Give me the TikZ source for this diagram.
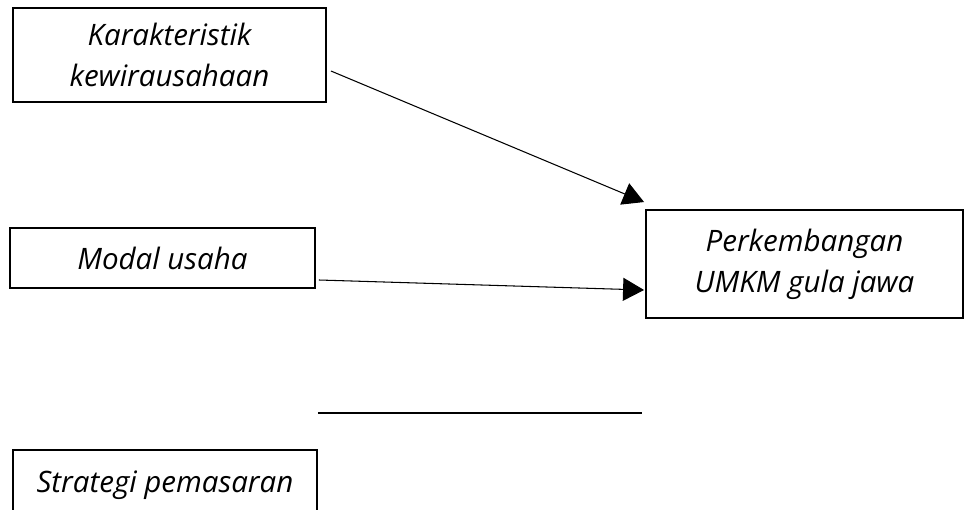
\documentclass[tikz,border=0pt]{standalone}
\usepackage{fontspec}
\setmainfont{Open Sans}
\usetikzlibrary{calc,arrows.meta}

\begin{document}
\begin{tikzpicture}[x=0.02cm,y=-0.02cm]
\useasboundingbox (0,0) rectangle (965,510);
\clip (0,0) rectangle (965,510);
\tikzset{kotak/.style={draw,rectangle,line width=1.1pt,align=center,font=\itshape\fontsize{16.8}{23.5}\selectfont}}
\tikzset{panah/.style={-{Triangle[length=0.42cm,width=0.46cm]},line width=0.6pt}}

\draw node [kotak,minimum width=6.26cm,minimum height=1.88cm] at (169.5,55) (karakter){Karakteristik\\kewirausahaan};
\draw node [kotak,minimum width=6.1cm,minimum height=1.2cm] at (162.5,258) (modal){Modal usaha};
\draw node [kotak,minimum width=6.34cm,minimum height=2.16cm] at (804.5,264) (perkembangan){Perkembangan\\UMKM gula jawa};
\draw node [kotak,minimum width=6.08cm,minimum height=1.4cm] at (165,485) (strategi){Strategi pemasaran};

\draw[panah] ($ (karakter.east)+(4,16)$) -- ($ (perkembangan.north west)+(-1,-7)$);
\draw[panah] ($ (modal.east)+(3,22)$) -- ($ (perkembangan.west)+(-1,26)$);

\coordinate (garisA) at ($ (strategi.north east)+(0,-36)$);
\coordinate (garisB) at ($ (perkembangan.west |- garisA)+(-3,0)$);
\draw[line width=1.4pt] (garisA) -- (garisB);

\end{tikzpicture}
\end{document}
